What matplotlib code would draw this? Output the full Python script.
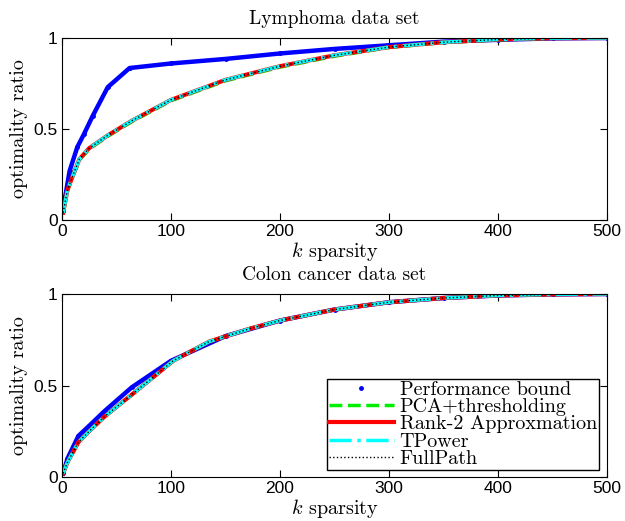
import matplotlib
matplotlib.use('Agg')
import matplotlib.pyplot as plt
from matplotlib.lines import Line2D

plt.rcParams['mathtext.fontset'] = 'cm'

# Lymphoma data set
k_lym_bound = [1, 3, 7, 14, 20, 28, 42, 62, 100, 150, 200, 250, 300, 350, 400, 450, 500]
lym_bound = [0.05, 0.13, 0.27, 0.40, 0.47, 0.57, 0.73, 0.835, 0.86, 0.885, 0.915, 0.94, 0.96, 0.98, 0.99, 0.998, 1.0]
k_lym = [1, 2, 5, 10, 16, 25, 42, 64, 100, 150, 200, 250, 300, 350, 400, 450, 500]
lym_pca = [0.04, 0.07, 0.16, 0.24, 0.33, 0.39, 0.46, 0.54, 0.655, 0.765, 0.84, 0.90, 0.948, 0.975, 0.99, 0.998, 1.0]
lym_rank2 = [0.04, 0.07, 0.165, 0.245, 0.335, 0.395, 0.465, 0.545, 0.66, 0.77, 0.845, 0.905, 0.95, 0.977, 0.992, 0.999, 1.0]
lym_tpower = lym_rank2
lym_full = lym_rank2

# Colon cancer data set
k_col_bound = [1, 5, 15, 25, 39, 64, 100, 150, 200, 250, 300, 350, 400, 450, 500]
col_bound = [0.02, 0.10, 0.224, 0.28, 0.36, 0.49, 0.635, 0.77, 0.855, 0.915, 0.955, 0.978, 0.992, 0.998, 1.0]
k_col = [1, 5, 15, 25, 39, 64, 102, 135, 172, 200, 250, 300, 350, 400, 450, 500]
col_pca = [0.02, 0.08, 0.19, 0.25, 0.33, 0.45, 0.635, 0.74, 0.81, 0.855, 0.915, 0.955, 0.978, 0.992, 0.998, 1.0]
col_rank2 = col_pca
col_tpower = col_pca
col_full = col_pca

names = ['Performance bound', 'PCA+thresholding', 'Rank-2 Approxmation', 'TPower', 'FullPath']
serif = 'cmr10'
sans = 'Liberation Sans'


def draw(ax, kb, bound, k, pca, rank2, tpower, full, title):
    ax.plot(kb, bound, color='b', lw=3.2, marker='.', ms=5)
    ax.plot(k, pca, color='#00ee00', ls='--', lw=2.5)
    ax.plot(k, rank2, color='r', lw=3)
    ax.plot(k, tpower, color='cyan', ls='-.', lw=2.5)
    ax.plot(k, full, color='k', ls=':', lw=1)
    ax.set_xlim(0, 500)
    ax.set_ylim(0, 1)
    ax.set_xticks([0, 100, 200, 300, 400, 500])
    ax.set_yticks([0, 0.5, 1])
    ax.set_yticklabels(['0', '0.5', '1'])
    ax.tick_params(direction='in', top=True, right=True, labelsize=12.5, length=5, pad=3)
    for lab in ax.get_xticklabels() + ax.get_yticklabels():
        lab.set_fontfamily(sans)
    ax.set_title(title, family=serif, fontsize=14, pad=10)
    ax.set_xlabel('$k$ sparsity', family=serif, fontsize=14.5, labelpad=0.5)
    ax.set_ylabel('optimality ratio', family=serif, fontsize=14.5, labelpad=4)


fig = plt.figure(figsize=(6.25, 5.21), dpi=100)
ax1 = fig.add_axes([62 / 625, 1 - 220 / 521, 545 / 625, 182 / 521])
ax2 = fig.add_axes([62 / 625, 1 - 477 / 521, 545 / 625, 183 / 521])

draw(ax1, k_lym_bound, lym_bound, k_lym, lym_pca, lym_rank2, lym_tpower, lym_full, 'Lymphoma data set')
draw(ax2, k_col_bound, col_bound, k_col, col_pca, col_rank2, col_tpower, col_full, 'Colon cancer data set')

handles = [
    Line2D([], [], color='b', ls='none', marker='.', ms=5),
    Line2D([], [], color='#00ee00', ls='--', lw=2.5),
    Line2D([], [], color='r', lw=3),
    Line2D([], [], color='cyan', ls='-.', lw=2.5),
    Line2D([], [], color='k', ls=':', lw=1),
]
leg = ax2.legend(handles, names, loc='lower right', bbox_to_anchor=(0.985, 0.04),
                 prop={'family': serif, 'size': 14.5}, fancybox=False, framealpha=1,
                 edgecolor='k', handlelength=3.2, handletextpad=0.3, labelspacing=-0.05,
                 borderpad=0.1, borderaxespad=0)
leg.get_frame().set_linewidth(1)

plt.savefig('out.png', dpi=100)
